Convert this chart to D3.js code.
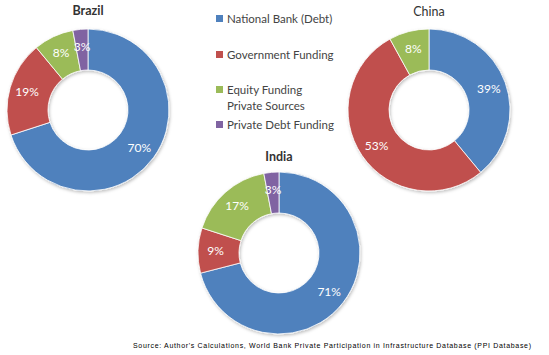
<!DOCTYPE html>
<html><head><meta charset="utf-8">
<script src="https://cdn.jsdelivr.net/npm/d3@7"></script>
<style>body{margin:0;background:#fff}svg{display:block}</style>
</head><body>
<script>
const categories = ["National Bank (Debt)", "Government Funding", "Equity Funding Private Sources", "Private Debt Funding"];
const legendLines = [["National Bank (Debt)"], ["Government Funding"], ["Equity Funding", "Private Sources"], ["Private Debt Funding"]];
const colors = ["#4F81BD", "#C0504D", "#9BBB59", "#8064A2"];
const countries = ["Brazil", "China", "India"];
const brazilValues = [70, 19, 8, 3];
const chinaValues = [39, 53, 8, 0];
const indiaValues = [71, 9, 17, 3];
const sourceText = "Source: Author's Calculations, World Bank Private Participation in Infrastructure Database (PPI Database)";

const W = 549, H = 355;
const svg = d3.select("body").append("svg").attr("width", W).attr("height", H);
const defs = svg.append("defs");
const f = defs.append("filter").attr("id", "sh").attr("x", "-20%").attr("y", "-20%").attr("width", "140%").attr("height", "140%");
f.append("feDropShadow").attr("dx", 1).attr("dy", 1.5).attr("stdDeviation", 1.5).attr("flood-color", "#000").attr("flood-opacity", 0.25);

const font = "Lato, 'Open Sans', sans-serif";
const charts = [
  {name: "Brazil", values: brazilValues, cx: 88, cy: 110, ty: 15, weight: "bold"},
  {name: "China", values: chinaValues, cx: 429, cy: 110, ty: 16, weight: "normal"},
  {name: "India", values: indiaValues, cx: 279, cy: 253, ty: 161, weight: "bold"}
];
const R = 81, r = 40;
const pie = d3.pie().sort(null).value(d => d);
const arc = d3.arc().innerRadius(r).outerRadius(R);
const labelArc = d3.arc().innerRadius(r + 3).outerRadius(R + 3);

charts.forEach(c => {
  const g = svg.append("g").attr("transform", `translate(${c.cx},${c.cy})`);
  const arcs = pie(c.values).filter(d => d.data > 0);
  g.append("g").attr("filter", "url(#sh)").selectAll("path").data(arcs).join("path")
    .attr("d", arc).attr("fill", (d) => colors[d.index]).attr("stroke", "#fff").attr("stroke-width", 0.8);
  g.selectAll("text").data(arcs).join("text")
    .attr("transform", d => `translate(${labelArc.centroid(d)})`)
    .attr("text-anchor", "middle").attr("dy", "0.35em")
    .attr("fill", "#fff").attr("font-family", font).attr("font-size", 12)
    .text(d => d.data + "%");
  svg.append("text").attr("x", c.cx).attr("y", c.ty).attr("text-anchor", "middle")
    .attr("font-family", font).attr("font-size", 12.5).attr("font-weight", c.weight).attr("fill", "#333")
    .text(c.name);
});

const legendY = [19, 55, 90, 125];
const lg = svg.append("g");
legendLines.forEach((lines, i) => {
  lg.append("rect").attr("x", 216).attr("y", legendY[i] - 4).attr("width", 7).attr("height", 7).attr("fill", colors[i]);
  lines.forEach((t, j) => {
    lg.append("text").attr("x", 227).attr("y", legendY[i] + j * 16).attr("dy", "0.35em")
      .attr("font-family", font).attr("font-size", 11.5).attr("fill", "#444").text(t);
  });
});

svg.append("text").attr("x", 133).attr("y", 348).attr("font-family", "'Liberation Sans', Arial, sans-serif")
  .attr("font-size", 7).attr("fill", "#000").attr("textLength", 398).attr("lengthAdjust", "spacing")
  .text(sourceText);
</script>
</body></html>
